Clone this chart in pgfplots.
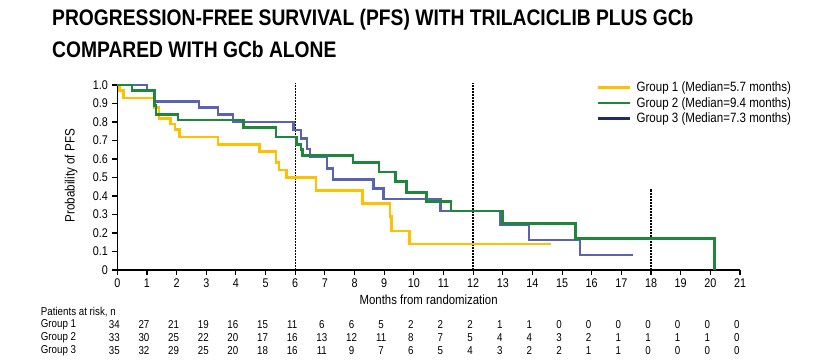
\documentclass[border=0pt]{standalone}
\usepackage{pgfplots}
\pgfplotsset{compat=1.18}
\usepackage{fontspec}
\setmainfont[FakeStretch=0.856]{Liberation Sans}
\definecolor{gyellow}{RGB}{255,192,0}
\definecolor{ggreen}{RGB}{30,135,60}
\definecolor{gblue}{RGB}{90,98,178}
\definecolor{gnavy}{RGB}{32,44,100}
\begin{document}
\begin{tikzpicture}
\path[use as bounding box] (0pt,0pt) rectangle (830pt,360pt);
\node[anchor=base west, inner sep=0pt, font=\fontsize{22.5}{26}\selectfont\bfseries] at (52pt,335pt) {PROGRESSION-FREE SURVIVAL (PFS) WITH TRILACICLIB PLUS GCb};
\node[anchor=base west, inner sep=0pt, font=\fontsize{22.5}{26}\selectfont\bfseries] at (52pt,303pt) {COMPARED WITH GCb ALONE};
\begin{axis}[
  at={(117.3pt,90pt)}, anchor=south west, scale only axis,
  width=622.7pt, height=185pt,
  xmin=0, xmax=21, ymin=0, ymax=1,
  axis x line*=bottom, axis y line*=left,
  axis line style={-, line width=1.3pt, black},
  xtick={0,1,...,21},
  ytick={0,0.1,0.2,0.3,0.4,0.5,0.6,0.7,0.8,0.9,1.0},
  yticklabels={0,0.1,0.2,0.3,0.4,0.5,0.6,0.7,0.8,0.9,1.0},
  tick align=outside, major tick length=5pt,
  tick style={black, line width=1.1pt},
  tick label style={font=\fontsize{12.6}{14}\selectfont},
  yticklabel style={xshift=-1pt},
  /pgf/number format/assume math mode=true,
  xlabel={Months from randomization},
  xlabel style={at={(axis description cs:0.5,-0.162)}, anchor=center, font=\fontsize{13.3}{15}\selectfont},
  ylabel={Probability of PFS},
  ylabel style={at={(axis description cs:-0.074,0.51)}, anchor=center, font=\fontsize{13.6}{15}\selectfont},
  clip=false,
  legend style={at={(0.770,1.028)}, anchor=north west, draw=none, fill=none, inner sep=0pt,
    font=\fontsize{13.5}{15}\selectfont, row sep=0pt},
  legend cell align=left,
  legend image code/.code={\draw[#1] (0pt,0pt) -- (31.5pt,0pt); \path (35pt,0pt);},
]
\addlegendimage{gyellow, line width=2.6pt}
\addlegendentry{Group 1 (Median=5.7 months)}
\addlegendimage{ggreen, line width=2.6pt}
\addlegendentry{Group 2 (Median=9.4 months)}
\addlegendimage{gnavy, line width=2.6pt}
\addlegendentry{Group 3 (Median=7.3 months)}
% dashed reference lines
\addplot[black, line width=1.3pt, dash pattern=on 2pt off 1pt, forget plot] coordinates {(6,0) (6,1.01)};
\addplot[black, line width=1.3pt, dash pattern=on 2pt off 1pt, forget plot] coordinates {(12,0) (12,1.01)};
\addplot[black, line width=1.1pt, dash pattern=on 2pt off 1pt, forget plot] coordinates {(18,0) (18,0.44)};
% Group 1
\addplot[const plot, gyellow, line width=2.6pt, forget plot] coordinates {
(0,1) (0.07,0.97) (0.2,0.93) (1.25,0.88) (1.4,0.82) (1.8,0.79) (1.95,0.76) (2.1,0.72)
(3.4,0.68) (4.8,0.64) (5.35,0.58) (5.45,0.54) (5.7,0.50) (6.7,0.43) (8.26,0.36)
(9.19,0.29) (9.25,0.21) (9.86,0.14) (14.62,0.14)};
% Group 3
\addplot[const plot, gblue, line width=2.6pt, forget plot] coordinates {
(0,1) (1.0,0.97) (1.25,0.91) (2.75,0.88) (3.4,0.84) (3.9,0.80) (5.95,0.757) (6.2,0.71)
(6.4,0.654) (6.5,0.61) (7.07,0.55) (7.28,0.49) (8.65,0.44) (8.97,0.384) (10.9,0.319)
(12.9,0.245) (13.89,0.162) (15.6,0.081) (17.38,0.081)};
% Group 2
\addplot[const plot, ggreen, line width=2.6pt, forget plot] coordinates {
(0,1) (0.5,0.97) (1.25,0.89) (1.3,0.84) (2.05,0.81) (4.25,0.77) (5.35,0.72) (6.05,0.68)
(6.2,0.65) (6.25,0.62) (7.95,0.58) (8.82,0.53) (9.38,0.48) (9.75,0.42) (10.43,0.37)
(11.26,0.32) (12.99,0.25) (15.46,0.17) (20.13,0)};
\end{axis}
% risk table
\node[anchor=west, inner sep=0pt, font=\fontsize{11.4}{12}\selectfont] at (40.7pt,48.3pt) {Patients at risk, n};
\node[anchor=west, inner sep=0pt, font=\fontsize{11.4}{12}\selectfont] at (40.7pt,35.7pt) {Group 1};
\node[anchor=west, inner sep=0pt, font=\fontsize{11.4}{12}\selectfont] at (40.7pt,22.3pt) {Group 2};
\node[anchor=west, inner sep=0pt, font=\fontsize{11.4}{12}\selectfont] at (40.7pt,9pt) {Group 3};
\foreach \v [count=\i from 0] in {34,27,21,19,16,15,11,6,6,5,2,2,2,1,1,0,0,0,0,0,0,0}
  \node[font=\fontsize{11.4}{12}\selectfont] at (114.3pt+29.65pt*\i,35.7pt) {\v};
\foreach \v [count=\i from 0] in {33,30,25,22,20,17,16,13,12,11,8,7,5,4,4,3,2,1,1,1,1,0}
  \node[font=\fontsize{11.4}{12}\selectfont] at (114.3pt+29.65pt*\i,22.3pt) {\v};
\foreach \v [count=\i from 0] in {35,32,29,25,20,18,16,11,9,7,6,5,4,3,2,2,1,1,0,0,0,0}
  \node[font=\fontsize{11.4}{12}\selectfont] at (114.3pt+29.65pt*\i,9pt) {\v};
\end{tikzpicture}
\end{document}
